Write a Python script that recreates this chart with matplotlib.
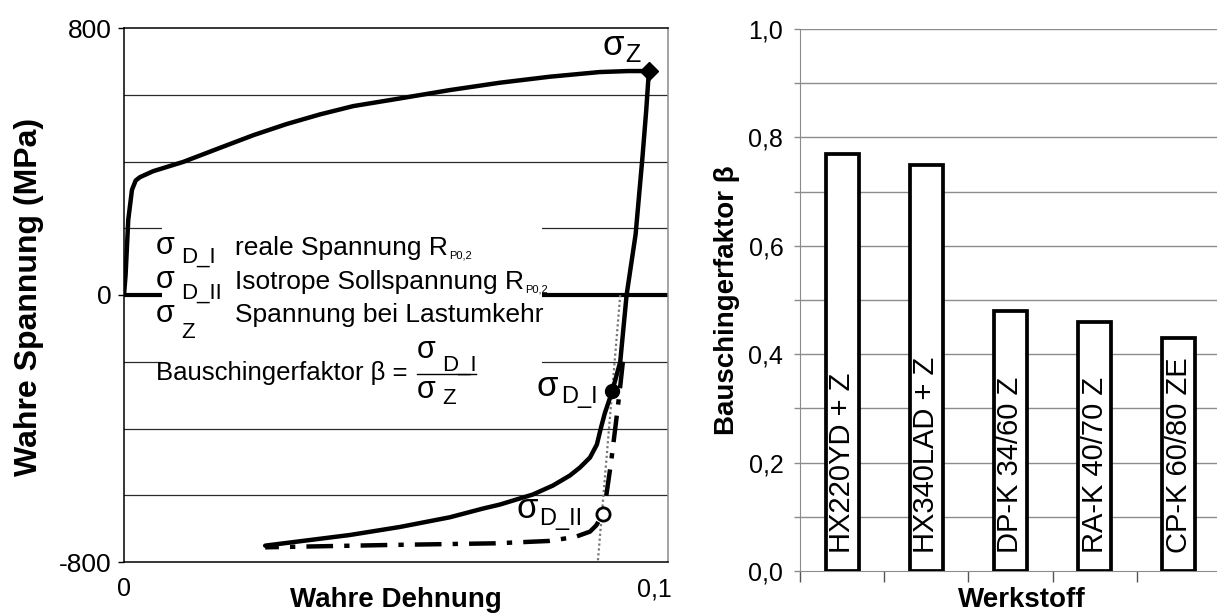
import matplotlib
matplotlib.use("Agg")
import matplotlib.pyplot as plt
from matplotlib.patches import Rectangle

plt.rcParams['font.family'] = ['Liberation Sans', 'DejaVu Sans']

# ---------------- data: left chart (stress-strain, Bauschinger test) ----------------
curve_strain = [0.0000, 0.0003, 0.0008, 0.0015, 0.0022, 0.0030, 0.0055, 0.0112, 0.0181,
                0.0244, 0.0306, 0.0369, 0.0432, 0.0520, 0.0614, 0.0708, 0.0802,
                0.0896, 0.0950, 0.0989,
                0.0984, 0.0977, 0.0964, 0.0947, 0.0935, 0.0920, 0.0906, 0.0898,
                0.0891, 0.0878, 0.0859, 0.0840, 0.0808, 0.0770, 0.0708, 0.0676,
                0.0614, 0.0520, 0.0426, 0.0331, 0.0266]
curve_stress = [0, 60, 225, 315, 343, 353, 371, 399, 441,
                479, 512, 541, 566, 589, 614, 636, 654,
                668, 671, 671,
                554, 415, 182, 0, -200, -288, -354, -402,
                -448, -487, -517, -541, -571, -598, -628, -640,
                -666, -695, -719, -738, -751]

iso_strain = [0.0940, 0.0934, 0.0928, 0.0918, 0.0909, 0.0902, 0.0890, 0.0878,
              0.0850, 0.0800, 0.0700, 0.0500, 0.0266]
iso_stress = [-200, -288, -368, -498, -598, -656, -690, -709,
              -725, -737, -744, -749, -756]

elastic_strain = [0.0935, 0.0893]
elastic_stress = [0, -795]

sigma_z = (0.0989, 671)
sigma_d1 = (0.0920, -288)
sigma_d2 = (0.0902, -656)

left_yticks = [-800, 0, 800]
left_yticklabels = ['-800', '0', '800']
left_grid = [-600, -400, -200, 200, 400, 600]
left_xticks = [0, 0.1]
left_xticklabels = ['0', '0,1']

# ---------------- data: right chart (Bauschinger factor) ----------------
materials = ['HX220YD + Z', 'HX340LAD + Z', 'DP-K 34/60 Z', 'RA-K 40/70 Z', 'CP-K 60/80 ZE']
beta = [0.77, 0.75, 0.48, 0.46, 0.43]
right_yticks = [0.0, 0.2, 0.4, 0.6, 0.8, 1.0]
right_yticklabels = ['0,0', '0,2', '0,4', '0,6', '0,8', '1,0']
right_minor = [0.1, 0.3, 0.5, 0.7, 0.9]

W, H = 1217, 614
fig = plt.figure(figsize=(W / 100, H / 100), dpi=100)


def fx(x):
    return x / W


def fy(y):
    return 1 - y / H


def put(s, x, y, size, ha='left', va='baseline', **kw):
    return fig.text(fx(x), fy(y), s, fontsize=size, ha=ha, va=va, **kw)


# ================= left chart =================
ax1 = fig.add_axes([fx(124), fy(562), 544 / W, 534 / H])
ax1.set_xlim(0, 0.1025)
ax1.set_ylim(-800, 800)
for v in left_grid:
    ax1.axhline(v, color='#2a2a2a', lw=0.9, zorder=1)
ax1.axhline(0, color='black', lw=3, zorder=2)
ax1.add_patch(Rectangle((0.07, 0.285), 0.698, 0.403, transform=ax1.transAxes,
                        facecolor='white', edgecolor='none', zorder=3))

ax1.plot(elastic_strain, elastic_stress, color='#777777', lw=1.6, ls=(0, (1, 1.2)), zorder=4)
ax1.plot(iso_strain, iso_stress, color='black', lw=3.2, ls=(0, (6, 2.5, 1.2, 2.5)), zorder=5)
ax1.plot(curve_strain, curve_stress, color='black', lw=3.2, zorder=6,
         solid_joinstyle='round', solid_capstyle='round')
ax1.plot(*sigma_z, marker='D', ms=9, color='black', zorder=7, ls='none')
ax1.plot(*sigma_d1, marker='o', ms=10, color='black', zorder=7, ls='none')
ax1.plot(*sigma_d2, marker='o', ms=9.5, mfc='white', mec='black', mew=2, zorder=7, ls='none')

for side in ['left', 'bottom', 'top']:
    ax1.spines[side].set_color('black')
    ax1.spines[side].set_linewidth(1.1)
ax1.spines['right'].set_color('#8a8a8a')
ax1.spines['right'].set_linewidth(1.1)

ax1.set_yticks(left_yticks)
ax1.set_yticklabels(left_yticklabels)
ax1.set_xticks(left_xticks)
ax1.set_xticklabels(left_xticklabels)
ax1.tick_params(axis='y', length=4, width=1, labelsize=19, pad=5)
ax1.tick_params(axis='x', length=0, labelsize=18, pad=11)

# labels near markers
put('σ', 603, 55, 25)
put('Z', 625, 62, 18)
put('σ', 537, 396, 25)
put('D_I', 561, 403, 17)
put('σ', 517, 518, 25)
put('D_II', 539, 525, 17)

# explanation box text
fs_txt = 19
fs_sig = 22
fs_sub = 16
put('σ', 156, 254, fs_sig)
put('D_I', 181, 263, fs_sub)
t1 = put('reale Spannung R', 235, 255, fs_txt)
put('σ', 156, 288, fs_sig)
put('D_II', 181, 299, fs_sub)
t2 = put('Isotrope Sollspannung R', 235, 289, fs_txt)
put('σ', 156, 322, fs_sig)
put('Z', 181, 338, fs_sub)
put('Spannung bei Lastumkehr', 235, 322, fs_txt)
put('Bauschingerfaktor β =', 156, 380, 18.5)
put('σ', 417, 358, fs_sig)
put('D_I', 442, 371, fs_sub)
fig.add_artist(plt.Line2D([fx(417), fx(476)], [fy(374), fy(374)], color='black', lw=1,
                          transform=fig.transFigure))
put('σ', 417, 398, fs_sig)
put('Z', 442, 404, fs_sub)

renderer = fig.canvas.get_renderer()
for t, yb in [(t1, 258), (t2, 292)]:
    bb = t.get_window_extent(renderer)
    put('P0,2', bb.x1 + 1, yb, 8)

# axis labels left
put('Wahre Spannung (MPa)', 29, 297, 23, ha='center', va='center', rotation=90, fontweight='bold')
put('Wahre Dehnung', 396, 600, 20, ha='center', va='center', fontweight='bold')

# ================= right chart =================
ax2 = fig.add_axes([fx(800), fy(571), 421 / W, 542 / H])
ax2.set_xlim(-0.5, 4.5)
ax2.set_ylim(0, 1)
for v in right_minor + right_yticks[1:]:
    ax2.axhline(v, color='#8c8c8c', lw=1, zorder=1)
xpos = list(range(len(materials)))
ax2.bar(xpos, beta, width=0.39, facecolor='white', edgecolor='black', linewidth=2.7, zorder=3)
for i, name in enumerate(materials):
    ax2.text(i, 0.034, name, rotation=90, ha='center', va='bottom', fontsize=21, zorder=4)

ax2.set_yticks(right_yticks)
ax2.set_yticklabels(right_yticklabels)
ax2.set_yticks(right_minor, minor=True)
ax2.set_xticks([p - 0.5 for p in xpos] + [4.5])
ax2.set_xticklabels([])
ax2.tick_params(axis='y', which='both', length=4, width=1, color='#8c8c8c', labelsize=18, pad=8)
ax2.tick_params(axis='x', length=8, width=1, color='#555555')
ax2.spines['top'].set_visible(False)
ax2.spines['right'].set_visible(False)
ax2.spines['left'].set_color('#8c8c8c')
ax2.spines['bottom'].set_color('#8c8c8c')

put('Bauschingerfaktor β', 727, 300, 20, ha='center', va='center', rotation=90, fontweight='bold')
put('Werkstoff', 1022, 600, 20, ha='center', va='center', fontweight='bold')

fig.savefig('out.png', dpi=100)
